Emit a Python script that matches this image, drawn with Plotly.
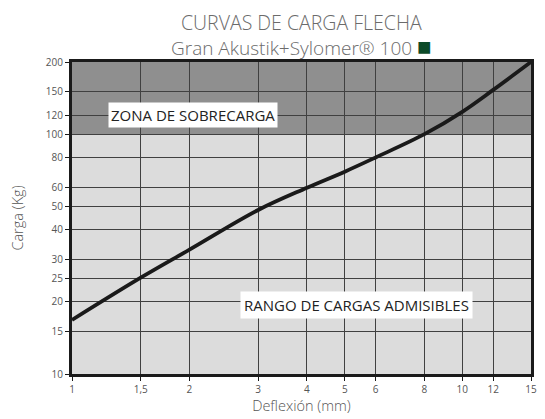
import plotly.graph_objects as go

# --------------------------------------------------------------
# Data (log-log load / deflection)
# --------------------------------------------------------------
deflexion = [1, 1.5, 2, 3, 4, 5, 6, 8, 10, 12, 15]
carga = [16.8, 25.2, 33.0, 48.3, 59.8, 69.8, 80.0, 100.0, 124.0, 153.0, 200.0]

x_ticks = [1, 1.5, 2, 3, 4, 5, 6, 8, 10, 12, 15]
x_labels = ["1", "1,5", "2", "3", "4", "5", "6", "8", "10", "12", "15"]
y_ticks = [10, 15, 20, 25, 30, 40, 50, 60, 80, 100, 120, 150, 200]
y_labels = [str(v) for v in y_ticks]

limite_sobrecarga = 100

FONT = "Open Sans, Noto Sans, sans-serif"

fig = go.Figure()

fig.add_trace(go.Scatter(
    x=deflexion,
    y=carga,
    mode="lines",
    line=dict(color="#1a1a1a", width=3.8, shape="spline", smoothing=1.0),
    showlegend=False,
    hoverinfo="skip",
))

# overload zone (dark band above 100 kg)
fig.add_shape(
    type="rect", xref="x", yref="y",
    x0=x_ticks[0], x1=x_ticks[-1], y0=limite_sobrecarga, y1=y_ticks[-1],
    fillcolor="#8f8f8f", line_width=0, layer="below",
)

fig.add_annotation(
    x=0.311, y=2.079, xref="x", yref="y",
    text="ZONA DE SOBRECARGA", showarrow=False,
    font=dict(family=FONT, size=15, color="#222"),
    bgcolor="white", borderpad=2,
)
fig.add_annotation(
    x=0.729, y=1.288, xref="x", yref="y",
    text="RANGO DE CARGAS ADMISIBLES", showarrow=False,
    font=dict(family=FONT, size=15, color="#222"),
    bgcolor="white", borderpad=3,
)

# two-line title, centred over the plot area
fig.add_annotation(
    x=0.5, y=1.0, xref="paper", yref="paper", yanchor="middle", yshift=27,
    text=("<span style='font-size:19.5px'>CURVAS DE CARGA FLECHA</span><br>"
          "Gran Akustik+Sylomer® 100 <span style='color:#0b4a28;font-size:24px'>■</span>"),
    showarrow=False, borderpad=0,
    font=dict(family=FONT, size=19, color="#6b6b6b", weight=300),
)

axis_common = dict(
    type="log",
    showgrid=True,
    gridcolor="#404040",
    gridwidth=1,
    showline=True,
    linecolor="#1a1a1a",
    linewidth=3,
    mirror=True,
    ticks="outside",
    ticklen=4,
    tickcolor="#1a1a1a",
    tickfont=dict(family=FONT, size=10, color="#555"),
    zeroline=False,
)

title_font = dict(family=FONT, size=14.5, color="#555", weight=300)

fig.update_xaxes(
    **axis_common,
    range=[0, 1.1761],
    tickvals=x_ticks,
    ticktext=x_labels,
    title=dict(text="Deflexión (mm)", font=title_font, standoff=4),
)
fig.update_yaxes(
    **axis_common,
    range=[1, 2.30103],
    tickvals=y_ticks,
    ticktext=y_labels,
    title=dict(text="Carga (Kg)", font=title_font, standoff=19),
)

# the page body adds an 8px margin, so the figure is 8px smaller on each side
fig.update_layout(
    width=537,
    height=411,
    margin=dict(l=64, r=8, t=54, b=45),
    plot_bgcolor="#dcdcdc",
    paper_bgcolor="white",
    font=dict(family=FONT),
)

fig.write_html("out.html")
